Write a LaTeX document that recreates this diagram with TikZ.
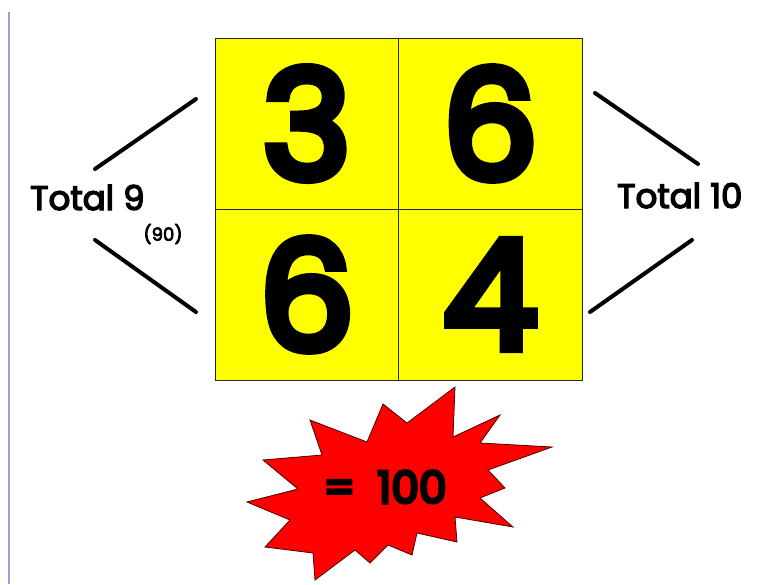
\documentclass[tikz,border=0pt]{standalone}
\usepackage{fontspec}
\setmainfont{Poppins}
\font\bigdigits="Poppins:embolden=6.5" at 150pt
\font\eqdigits="Poppins:embolden=7" at 44pt
\font\lblfont="Poppins:embolden=4" at 34pt
\font\smallfont="Poppins:embolden=4" at 18pt
\definecolor{cellyellow}{RGB}{255,255,0}
\definecolor{burstred}{RGB}{255,0,0}
\definecolor{edgeblue}{RGB}{150,165,205}
\begin{document}
\begin{tikzpicture}[x=1pt,y=-1pt,
  cell/.style={draw=black!85, line width=0.8pt, fill=cellyellow, minimum width=183.5pt, minimum height=171pt, inner sep=0pt, font=\bigdigits},
  stroke/.style={line width=4pt, line cap=round},
  lbl/.style={font=\lblfont, inner sep=0pt},
  small/.style={font=\smallfont, inner sep=0pt}]
\useasboundingbox (0,0) rectangle (779,584);
\fill[white] (0,0) rectangle (779,584);
\draw[edgeblue, line width=2pt] (9,12) -- (9,584);
% grid
\node[cell] (c11) at (306.75,123.5) {3};
\node[cell] (c12) at (490.25,123.5) {6};
\node[cell] (c21) at (306.75,294.5) {6};
\node[cell] (c22) at (490.25,294.5) {4};
% labels
\node[lbl, anchor=base west] (t9) at (30,210) {Total 9};
\node[small] (n90) at (163,234) {(90)};
\node[lbl, anchor=base west] (t10) at (617,208) {Total 10};
% strokes
\coordinate (l1a) at (95,169);
\coordinate (l1b) at (196,99);
\coordinate (l2a) at (95,240);
\coordinate (l2b) at (196,312);
\coordinate (r1a) at (595,93);
\coordinate (r1b) at (698,164);
\coordinate (r2a) at (692,240);
\coordinate (r2b) at (590,312);
\draw[stroke] (l1a) -- (l1b);
\draw[stroke] (l2a) -- (l2b);
\draw[stroke] (r1a) -- (r1b);
\draw[stroke] (r2a) -- (r2b);
% starburst
\filldraw[fill=burstred, draw=black!70!red, line width=0.8pt, line join=miter]
 (247,502) -- (298,489) -- (263,460) -- (322,455) -- (310,420) -- (367,442)
 -- (383,404) -- (407,423) -- (455,387) -- (453,437) -- (500,415) -- (480,443)
 -- (552,447) -- (488,470) -- (505,488) -- (480,498) -- (513,527) -- (455,517)
 -- (457,542) -- (417,533) -- (412,555) -- (388,545) -- (370,563) -- (355,550)
 -- (315,580) -- (313,553) -- (265,547) -- (290,520) -- cycle;
\node[font=\eqdigits, inner sep=0pt, anchor=base] (eq) at (385,503) {=\hspace{22pt}100};
\end{tikzpicture}
\end{document}
